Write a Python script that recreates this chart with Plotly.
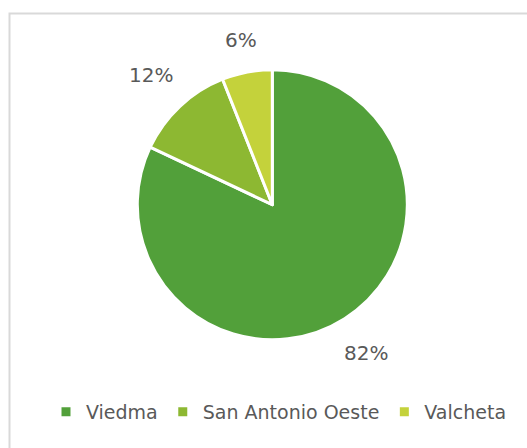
import math
import plotly.graph_objects as go

labels = ["Viedma", "San Antonio Oeste", "Valcheta"]
values = [82, 12, 6]
colors = ["#52A03A", "#8DB832", "#C4D23B"]

W, H = 527, 448
CX, CY, R = 272.3, 204.7, 135
FONT = "DejaVu Sans"
LABEL_SIZE = 20

fig = go.Figure(go.Pie(
    labels=labels, values=values, sort=False, direction="clockwise", rotation=0,
    marker=dict(colors=colors, line=dict(color="white", width=3)),
    textinfo="none",
    domain=dict(x=[(CX - R) / W, (CX + R) / W], y=[1 - (CY + R) / H, 1 - (CY - R) / H]),
    showlegend=True,
))

# outside percentage labels computed from the data
total = sum(values)
annotations = []
start = 0.0
for v in values:
    frac = v / total
    mid = (start + frac / 2) * 2 * math.pi
    start += frac
    s, c = math.sin(mid), math.cos(mid)
    txt = f"{round(frac * 100)}%"
    hw = 0.37 * LABEL_SIZE * len(txt)
    hh = 10
    rr = R + 20 + abs(s) * hw + abs(c) * hh
    px, py = CX + rr * s, CY - rr * c
    annotations.append(dict(x=px / W, y=1 - py / H, xref="paper", yref="paper",
                            text=txt, showarrow=False, xanchor="center", yanchor="middle",
                            font=dict(family=FONT, size=LABEL_SIZE, color="#595959")))

fig.update_layout(
    width=W, height=H, margin=dict(l=0, r=0, t=0, b=0),
    paper_bgcolor="white",
    annotations=annotations,
    legend=dict(orientation="h", x=279 / W, xanchor="center", y=(H - 412) / H, yanchor="middle",
                font=dict(family=FONT, size=19, color="#595959"), itemwidth=30,
                traceorder="normal"),
    shapes=[dict(type="rect", xref="paper", yref="paper",
                 x0=9.5 / W, x1=1.02, y0=-0.02, y1=(H - 13.5) / H,
                 line=dict(color="#D9D9D9", width=2))],
)
fig.write_html("out.html")
